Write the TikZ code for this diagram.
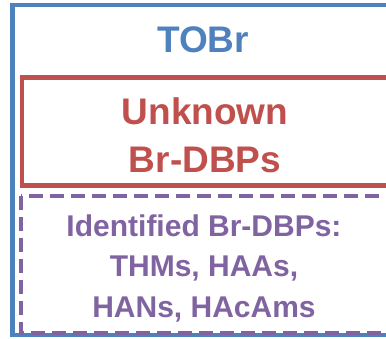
\documentclass[tikz,border=0pt]{standalone}
\usepackage{fontspec}
\setmainfont{Liberation Sans}
\definecolor{obl}{RGB}{79,129,189}
\definecolor{ored}{RGB}{192,80,77}
\definecolor{opu}{RGB}{128,100,162}
\begin{document}
\begin{tikzpicture}[x=1pt,y=-1pt,
  bigtxt/.style={font=\fontsize{37}{44}\selectfont\bfseries, inner sep=0pt, anchor=base},
  smtxt/.style={font=\fontsize{30}{36}\selectfont\bfseries, inner sep=0pt, anchor=base, text=opu}]
\useasboundingbox (0,0) rectangle (386,339);
\clip (0,0) rectangle (386,339);
\draw[obl, line width=4.5pt] (12.5,5) rectangle (420,335);
\draw[ored, line width=4.5pt] (22,77.5) rectangle (420,185.5);
\draw[opu, line width=4pt, dash pattern=on 14pt off 7pt] (21,196) rectangle (420,333);
\node[bigtxt, text=obl] (tobr) at (203,53) {TOBr};
\node[bigtxt, text=ored] (unk1) at (205,125) {Unknown};
\node[bigtxt, text=ored] (unk2) at (205,173) {Br-DBPs};
\node[smtxt] (id1) at (204,237) {Identified Br-DBPs:};
\node[smtxt] (id2) at (204,277) {THMs, HAAs,};
\node[smtxt] (id3) at (204,318) {HANs, HAcAms};
\end{tikzpicture}
\end{document}
